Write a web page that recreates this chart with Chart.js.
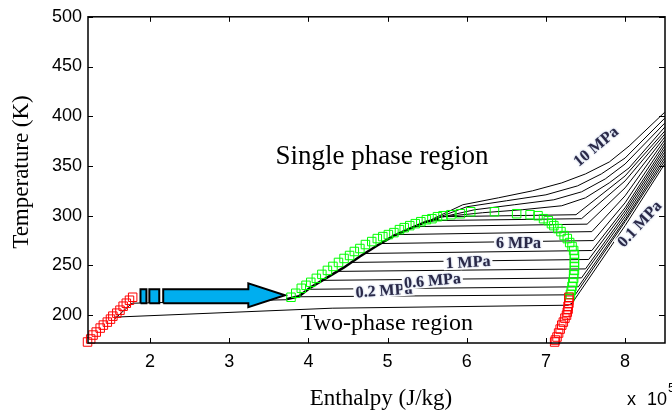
<!DOCTYPE html>
<html>
<head>
<meta charset="utf-8">
<title>T-h diagram</title>
<script src="https://cdn.jsdelivr.net/npm/chart.js@4.4.0/dist/chart.umd.min.js"></script>
<style>
  html, body { margin: 0; padding: 0; background: #fff; }
</style>
</head>
<body>
<canvas id="chart" width="672" height="416"></canvas>
<script>
// axis ticks
const xTicks = [2, 3, 4, 5, 6, 7, 8];
const yTicks = [200, 250, 300, 350, 400, 450, 500];

// saturation points (enthalpy x1e5 J/kg, temperature K)
const redLeftH = [1.21, 1.25, 1.28, 1.32, 1.37, 1.41, 1.46, 1.50, 1.53, 1.58, 1.62, 1.66, 1.70, 1.74, 1.78];
const redLeftT = [173, 176, 180, 183, 187, 190, 193, 196, 199, 202, 205, 209, 212, 215, 218];

const redRightH = [7.29, 7.29, 7.29, 7.28, 7.28, 7.27, 7.26, 7.24, 7.22, 7.20, 7.18, 7.16, 7.14, 7.12, 7.11];
const redRightT = [218, 215, 212, 209, 206, 203, 200, 197, 193, 190, 186, 182, 178, 175, 173];

const greenH = [3.78, 3.84, 3.91, 3.97, 4.03, 4.10, 4.17, 4.24, 4.31, 4.38, 4.45, 4.52, 4.58, 4.65, 4.72,
                4.80, 4.87, 4.94, 5.01, 5.08, 5.15, 5.21, 5.28, 5.35, 5.42, 5.49, 5.56, 5.63, 5.70, 5.80,
                5.92, 6.05, 6.35, 6.63, 6.80, 6.90, 6.97, 7.03, 7.07, 7.10, 7.15, 7.19, 7.23, 7.27, 7.30,
                7.33, 7.35, 7.36, 7.36, 7.36, 7.36, 7.36, 7.35, 7.35, 7.34, 7.33, 7.32, 7.31, 7.30];
const greenT = [218, 222, 227, 230, 233, 237, 241, 245, 249, 253, 257, 260, 264, 267, 271,
                274, 277, 279, 281, 283, 286, 288, 290, 292, 294, 296, 297, 299, 300, 301,
                302, 304, 304, 302, 301, 300, 297, 295, 292, 290, 287, 284, 280, 277, 273,
                269, 265, 261, 257, 253, 249, 245, 241, 237, 233, 229, 225, 221, 218];

// compressed liquid (all isobars overlap here)
const liquidLine = [[3.72, 216], [3.88, 219], [4.03, 228], [4.24, 238], [4.45, 248], [4.65, 259],
                    [4.87, 270], [5.08, 280], [5.28, 287], [5.49, 294], [5.65, 297]];

// isobars, low to high pressure
const isobarLines = [
  [[1.55, 196], [1.77, 212], [3.72, 215.5]],
  [[1.55, 198], [4.30, 207], [7.28, 210], [7.33, 212], [8.0, 290], [8.5, 352]],
  [[3.88, 218.5], [7.37, 220.5], [8.0, 294], [8.5, 355]],
  [[4.00, 226], [7.41, 228.5], [8.0, 296], [8.5, 358]],
  [[4.18, 235], [7.45, 237.5], [8.0, 299], [8.5, 361]],
  [[4.36, 244], [7.50, 246.5], [8.0, 302], [8.5, 364]],
  [[4.53, 253], [7.54, 256], [8.0, 305], [8.5, 367]],
  [[4.70, 262], [7.58, 265], [8.0, 308], [8.5, 370]],
  [[4.91, 272], [7.60, 275], [8.0, 313], [8.5, 373]],
  [[5.11, 281], [7.58, 284], [8.0, 320], [8.5, 376]],
  [[5.32, 289], [7.52, 291.5], [8.0, 328], [8.5, 379]],
  [[5.52, 295], [7.45, 297], [8.0, 335], [8.5, 382]],
  [[5.70, 299], [7.38, 301], [8.0, 340], [8.5, 385]],
  [[5.70, 299], [6.2, 303], [6.7, 306], [7.2, 310], [7.5, 318], [7.8, 333], [8.05, 348], [8.5, 389]],
  [[5.65, 298], [6.1, 306], [6.6, 311], [7.1, 316], [7.45, 324], [7.75, 337], [8.0, 352], [8.5, 393]],
  [[5.60, 297], [6.0, 309], [6.5, 315], [7.0, 321], [7.4, 330], [7.7, 342], [8.0, 358], [8.5, 398]],
  [[5.55, 296], [5.95, 311], [6.4, 318], [6.83, 325], [7.2, 333], [7.5, 342], [7.8, 354], [8.05, 370], [8.5, 404]]
];

// blue arrow outline
const arrowBox1H = [1.879, 1.879, 1.954, 1.954, 1.879];
const arrowBox1T = [212, 226, 226, 212, 212];
const arrowBox2H = [1.991, 1.991, 2.116, 2.116, 1.991];
const arrowBox2T = [212, 226, 226, 212, 212];
const arrowH = [2.166, 2.166, 3.241, 3.241, 3.704, 3.241, 3.241, 2.166];
const arrowT = [212, 226, 226, 232, 220, 208, 212, 212];

// labels
const pressureLabels = ['0.2 MPa', '0.6 MPa', '1 MPa', '6 MPa', '10 MPa', '0.1 MPa'];
const labelSpots = [
  { h: 4.954, t: 225, angle: -4 },
  { h: 5.566, t: 235, angle: -5 },
  { h: 6.016, t: 253.5, angle: -3 },
  { h: 6.654, t: 273, angle: 0 },
  { h: 7.629, t: 370, angle: -40 },
  { h: 8.180, t: 292, angle: -47 }
];

const sans = "'Liberation Sans', Arial, Helvetica, sans-serif";
const serif = "'Liberation Serif', 'Times New Roman', serif";

function pts(h, t) { return h.map((v, i) => ({ x: v, y: t[i] })); }
function pairs(list) { return list.map(p => ({ x: p[0], y: p[1] })); }

function markers(h, t, color) {
  return {
    data: pts(h, t), showLine: false, pointStyle: 'rect', pointRadius: 6,
    pointBorderColor: color, pointBackgroundColor: 'rgba(0,0,0,0)', pointBorderWidth: 1, clip: 8
  };
}
function arrowPart(h, t) {
  return {
    data: pts(h, t), showLine: true, fill: 'shape', backgroundColor: '#00aeef',
    borderColor: '#000', borderWidth: 2, borderJoinStyle: 'miter', pointRadius: 0, tension: 0
  };
}

const datasets = [
  markers(redLeftH, redLeftT, '#ff0000'),
  markers(redRightH, redRightT, '#ff0000'),
  markers(greenH, greenT, '#00ff00'),
  arrowPart(arrowBox1H, arrowBox1T),
  arrowPart(arrowBox2H, arrowBox2T),
  arrowPart(arrowH, arrowT),
  { data: pairs(liquidLine), showLine: true, borderColor: '#000', borderWidth: 2.5, pointRadius: 0, fill: false }
].concat(isobarLines.map(line => ({
  data: pairs(line), showLine: true, borderColor: '#000', borderWidth: 1, pointRadius: 0, fill: false, tension: 0
})));

// labels, frame, inner ticks and titles
const decor = {
  id: 'decor',
  afterDatasetsDraw(chart) {
    const { ctx, chartArea: a, scales: { x, y } } = chart;
    ctx.save();

    ctx.font = 'bold 16px ' + serif;
    ctx.textAlign = 'center';
    ctx.textBaseline = 'middle';
    pressureLabels.forEach((txt, i) => {
      const s = labelSpots[i];
      ctx.save();
      ctx.translate(x.getPixelForValue(s.h), y.getPixelForValue(s.t));
      ctx.rotate(s.angle * Math.PI / 180);
      const w = ctx.measureText(txt).width;
      ctx.fillStyle = '#fff';
      ctx.fillRect(-w / 2 - 2, -7, w + 4, 14);
      ctx.shadowColor = 'rgba(90,120,180,0.7)';
      ctx.shadowBlur = 2;
      ctx.fillStyle = '#2a2846';
      ctx.fillText(txt, 0, 1);
      ctx.restore();
    });

    ctx.fillStyle = '#000';
    ctx.textBaseline = 'alphabetic';
    ctx.font = '27px ' + serif;
    ctx.fillText('Single phase region', x.getPixelForValue(4.93), y.getPixelForValue(352));
    ctx.font = '24px ' + serif;
    ctx.fillText('Two-phase region', x.getPixelForValue(4.99), y.getPixelForValue(185));

    ctx.strokeStyle = '#000';
    ctx.lineWidth = 1.5;
    ctx.strokeRect(a.left, a.top, a.right - a.left, a.bottom - a.top);
    ctx.lineWidth = 1;
    ctx.beginPath();
    xTicks.forEach(v => {
      const p = Math.round(x.getPixelForValue(v)) + 0.5;
      ctx.moveTo(p, a.bottom); ctx.lineTo(p, a.bottom - 5);
      ctx.moveTo(p, a.top); ctx.lineTo(p, a.top + 5);
    });
    yTicks.forEach(v => {
      const p = Math.round(y.getPixelForValue(v)) + 0.5;
      ctx.moveTo(a.left, p); ctx.lineTo(a.left + 5, p);
      ctx.moveTo(a.right, p); ctx.lineTo(a.right - 6, p);
    });
    ctx.stroke();

    ctx.font = '23px ' + serif;
    ctx.textAlign = 'center';
    ctx.fillText('Enthalpy (J/kg)', 381, 405);
    ctx.save();
    ctx.translate(28, 172);
    ctx.rotate(-Math.PI / 2);
    ctx.fillText('Temperature (K)', 0, 0);
    ctx.restore();

    ctx.font = '18px ' + sans;
    ctx.textAlign = 'left';
    ctx.fillText('x', 627, 405);
    ctx.textAlign = 'right';
    ctx.fillText('10', 667, 405);
    ctx.textAlign = 'left';
    ctx.font = '13px ' + sans;
    ctx.fillText('5', 668, 392);
    ctx.restore();
  }
};

new Chart(document.getElementById('chart'), {
  type: 'scatter',
  data: { datasets: datasets },
  options: {
    responsive: false,
    animation: false,
    devicePixelRatio: 1,
    layout: { padding: { top: 15, right: 1, left: 0, bottom: 0 } },
    plugins: { legend: { display: false }, tooltip: { enabled: false } },
    scales: {
      x: {
        type: 'linear', min: 1.216, max: 8.504,
        afterBuildTicks: s => { s.ticks = xTicks.map(v => ({ value: v })); },
        afterFit: s => { s.height = 73; },
        grid: { display: false, drawTicks: false },
        border: { display: false },
        ticks: { color: '#000', font: { family: sans, size: 18 }, padding: 8, maxRotation: 0, autoSkip: false }
      },
      y: {
        type: 'linear', min: 172, max: 500,
        afterBuildTicks: s => { s.ticks = yTicks.map(v => ({ value: v })); },
        afterFit: s => { s.width = 88; },
        grid: { display: false, drawTicks: false },
        border: { display: false },
        ticks: { color: '#000', font: { family: sans, size: 18 }, padding: 6, autoSkip: false }
      }
    }
  },
  plugins: [decor]
});
</script>
</body>
</html>
